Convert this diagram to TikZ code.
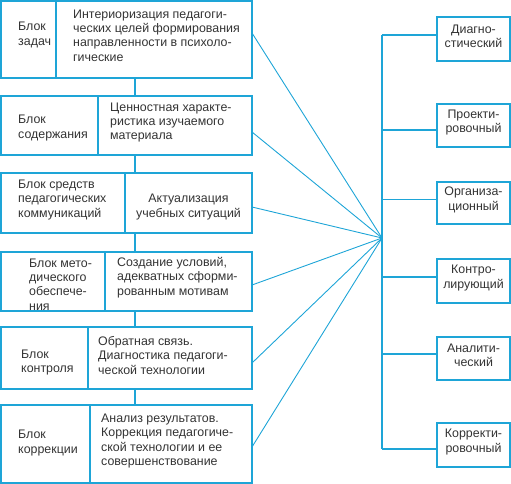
\documentclass[tikz,border=0pt]{standalone}
\usepackage{fontspec}
\setmainfont{Liberation Sans}
\usetikzlibrary{calc, positioning}
\definecolor{lineblue}{RGB}{30,165,215}
\tikzset{
    cell/.style={draw=lineblue, line width=1.4pt, anchor=north west, inner sep=0pt, outer sep=0pt},
    txt/.style={anchor=west, inner sep=0pt, align=left, text=black!80, font=\fontsize{12.4}{14.4}\selectfont},
    link/.style={lineblue, line width=0.9pt},
    spine/.style={lineblue, line width=1.4pt}
}

\begin{document}
\begin{tikzpicture}[x=1pt, y=-1pt]
        \useasboundingbox (0,0) rectangle (511,484);
        % frames of the blocks
        \node [cell, minimum width=55pt, minimum height=77pt] (l1) at (1,1) {};
        \node [cell, minimum width=196pt, minimum height=77pt] (r1) at (56,1) {};
        \node [cell, minimum width=97pt, minimum height=59pt] (l2) at (1,96) {};
        \node [cell, minimum width=154pt, minimum height=59pt] (r2) at (98,96) {};
        \node [cell, minimum width=124pt, minimum height=60pt] (l3) at (1,173) {};
        \node [cell, minimum width=127pt, minimum height=60pt] (r3) at (125,173) {};
        \node [cell, minimum width=104pt, minimum height=59pt] (l4) at (1,252) {};
        \node [cell, minimum width=147pt, minimum height=59pt] (r4) at (105,252) {};
        \node [cell, minimum width=87pt, minimum height=62pt] (l5) at (1,327) {};
        \node [cell, minimum width=164pt, minimum height=62pt] (r5) at (88,327) {};
        \node [cell, minimum width=89pt, minimum height=78pt] (l6) at (1,405) {};
        \node [cell, minimum width=162pt, minimum height=78pt] (r6) at (90,405) {};

        % texts of the blocks
        \node [txt] (l1t) at ([xshift=17pt, yshift=4.5pt]l1.west) {Блок\\задач};
        \node [txt] (r1t) at ([xshift=17pt, yshift=4pt]r1.west) {Интериоризация педагоги-\\ческих целей формирования\\направленности в психоло-\\гические};
        \node [txt] (l2t) at ([xshift=17pt, yshift=-2.5pt]l2.west) {Блок\\содержания};
        \node [txt] (r2t) at ([xshift=12pt, yshift=3pt]r2.west) {Ценностная характе-\\ристика изучаемого\\материала};
        \node [txt] (l3t) at ([xshift=17pt, yshift=3pt]l3.west) {Блок средств\\педагогических\\коммуникаций};
        \node [txt, anchor=center, align=center] (r3t) at ([yshift=-4pt]r3.center) {Актуализация\\учебных ситуаций};
        \node [txt] (l4t) at ([xshift=28pt, yshift=-3pt]l4.west) {Блок мето-\\дического\\обеспече-\\ния};
        \node [txt] (r4t) at ([xshift=12pt, yshift=4pt]r4.west) {Создание условий,\\адекватных сформи-\\рованным мотивам};
        \node [txt] (l5t) at ([xshift=20pt, yshift=-4.5pt]l5.west) {Блок\\контроля};
        \node [txt] (r5t) at ([xshift=10pt, yshift=2.5pt]r5.west) {Обратная связь.\\Диагностика педагоги-\\ческой технологии};
        \node [txt] (l6t) at ([xshift=17pt, yshift=1pt]l6.west) {Блок\\коррекции};
        \node [txt] (r6t) at ([xshift=11pt, yshift=3pt]r6.west) {Анализ результатов.\\Коррекция педагогиче-\\ской технологии и ее\\совершенствование};

        % kinds on the right
        \foreach \k/\y/\h/\t in {k1/17/44/{Диагно-\\стический}, k2/104/43/{Проекти-\\ровочный}, k3/182/42/{Организа-\\ционный}, k4/259/44/{Контро-\\лирующий}, k5/337/43/{Аналити-\\ческий}, k6/423/44/{Корректи-\\ровочный}} {
            \node [cell, minimum width=73pt, minimum height=\h pt] (\k) at (437,\y) {};
            \node [txt, anchor=center, align=center] (\k t) at ([yshift=3pt]\k.center) {\t};
        }

        \coordinate (hub) at (382,238);
        \coordinate (vx) at (135,0);

        % chain of blocks
        \foreach \a/\b in {r1/r2, r2/r3, r3/r4, r4/r5, r5/r6}
            \draw [spine] (\a.south -| vx) -- (\b.north -| vx);

        % fan into the hub
        \foreach \a/\d in {r1/6.5, r2/-6.5, r3/-4, r4/-3.5, r5/-5, r6/-3}
            \draw [link] ([yshift=\d pt]\a.east) -- (hub);

        % spine and branches
        \draw [spine] ([yshift=4pt]k1.west -| hub) -- ([yshift=-4pt]k6.west -| hub);
        \foreach \k/\d in {k1/4, k2/-4.5, k3/3.5, k4/4, k5/4.5, k6/-4}
            \draw [spine] ([yshift=\d pt]\k.west -| hub) -- ([yshift=\d pt]\k.west);
    \end{tikzpicture}
\end{document}
